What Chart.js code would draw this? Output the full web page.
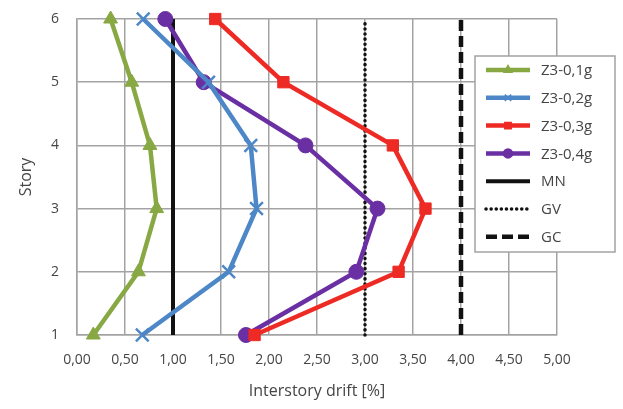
<!DOCTYPE html>
<html>
<head>
<meta charset="utf-8">
<script src="https://cdn.jsdelivr.net/npm/chart.js@4/dist/chart.umd.min.js"></script>
<style>
  html, body { margin: 0; padding: 0; background: #fff; }
  #wrap { width: 623px; height: 409px; }
</style>
</head>
<body>
<div id="wrap"><canvas id="myChart" width="623" height="409"></canvas></div>
<script>
// stories (y axis)
const stories = [1, 2, 3, 4, 5, 6];
// interstory drift [%] per story
const drift01 = [0.17, 0.64, 0.83, 0.76, 0.57, 0.35];
const drift02 = [0.68, 1.58, 1.87, 1.81, 1.37, 0.69];
const drift03 = [1.85, 3.35, 3.63, 3.29, 2.15, 1.44];
const drift04 = [1.76, 2.91, 3.13, 2.38, 1.32, 0.92];
// limit lines
const limitMN = 1.0;
const limitGV = 3.0;
const limitGC = 4.0;
const xTickLabels = ['0,00', '0,50', '1,00', '1,50', '2,00', '2,50', '3,00', '3,50', '4,00', '4,50', '5,00'];
const yTickLabels = ['1', '2', '3', '4', '5', '6'];

function pts(vals) {
    return vals.map((v, i) => ({x: v, y: stories[i]}));
}
function vline(v) {
    return [{x: v, y: stories[0]}, {x: v, y: stories[stories.length - 1]}];
}

const txt = '#454545';
const grid = '#a3a3a3';

function series(label, vals, color, style, r) {
    return {
        label: label, data: pts(vals), showLine: true,
        borderColor: color, backgroundColor: color, borderWidth: 4.5,
        pointStyle: style, pointRadius: r, pointBorderWidth: style === 'crossRot' ? 2.5 : 1,
        pointBorderColor: color, clip: false
    };
}
function limit(label, v, width, dash, cap) {
    return {
        label: label, data: vline(v), showLine: true,
        borderColor: '#111', borderWidth: width, borderDash: dash, borderCapStyle: cap,
        pointRadius: 0, clip: false
    };
}

// legend drawn inside the plot like the original
const boxLegend = {
    id: 'boxLegend',
    afterDraw(chart) {
        const ctx = chart.ctx;
        const x0 = 475, y0 = 56, w = 140, h = 196;
        ctx.save();
        ctx.fillStyle = '#fff';
        ctx.fillRect(x0, y0, w, h);
        ctx.strokeStyle = grid;
        ctx.lineWidth = 1.5;
        ctx.strokeRect(x0, y0, w, h);
        chart.data.datasets.forEach((ds, i) => {
            const y = y0 + 14 + i * 27.8;
            ctx.save();
            ctx.strokeStyle = ds.borderColor;
            ctx.lineWidth = ds.borderWidth;
            ctx.setLineDash(ds.borderDash || []);
            ctx.lineCap = ds.borderCapStyle || 'butt';
            ctx.beginPath();
            ctx.moveTo(486, y);
            ctx.lineTo(530, y);
            ctx.stroke();
            ctx.restore();
            if (ds.pointRadius) {
                ctx.fillStyle = ds.backgroundColor;
                ctx.strokeStyle = ds.borderColor;
                Chart.helpers.drawPoint(ctx, {pointStyle: ds.pointStyle, radius: 4.5, rotation: 0, borderWidth: ds.pointBorderWidth}, 508, y);
            }
            ctx.fillStyle = txt;
            ctx.font = '15px "Open Sans"';
            ctx.textBaseline = 'middle';
            ctx.textAlign = 'left';
            ctx.fillText(ds.label, 541, y + 1);
        });
        ctx.restore();
    }
};

new Chart(document.getElementById('myChart'), {
    type: 'scatter',
    data: {
        datasets: [
            series('Z3-0,1g', drift01, '#87a843', 'triangle', 8),
            series('Z3-0,2g', drift02, '#4d87c7', 'crossRot', 9),
            series('Z3-0,3g', drift03, '#ee2a24', 'rect', 8),
            series('Z3-0,4g', drift04, '#6a2fa2', 'circle', 7.5),
            limit('MN', limitMN, 4, [], 'butt'),
            limit('GV', limitGV, 3.5, [0.1, 5], 'round'),
            limit('GC', limitGC, 4.5, [11, 5], 'butt')
        ]
    },
    options: {
        responsive: false,
        animation: false,
        layout: {padding: {left: 0, right: 66, top: 19, bottom: 0}},
        plugins: {legend: {display: false}, tooltip: {enabled: false}},
        scales: {
            x: {
                type: 'linear', min: 0, max: 5,
                afterFit(s) { s.height = 74; },
                grid: {color: grid, lineWidth: 1.5, drawTicks: false},
                border: {color: grid, width: 1.5},
                ticks: {
                    stepSize: 0.5, padding: 17, color: txt,
                    font: {family: 'Open Sans', size: 14},
                    callback: (v, i) => xTickLabels[i]
                },
                title: {
                    display: true, text: 'Interstory drift [%]', color: txt,
                    font: {family: 'Open Sans', size: 16}, padding: {bottom: 8}
                }
            },
            y: {
                type: 'linear', min: 1, max: 6,
                afterFit(s) { s.width = 77; s.paddingTop = 0; s.paddingBottom = 0; },
                grid: {color: grid, lineWidth: 1.5, drawTicks: false},
                border: {color: grid, width: 1.5},
                ticks: {
                    stepSize: 1, padding: 18, color: txt,
                    font: {family: 'Open Sans', size: 14},
                    callback: (v, i) => yTickLabels[i]
                },
                title: {
                    display: true, text: 'Story', color: txt,
                    font: {family: 'Open Sans', size: 16}, padding: {top: 17}
                }
            }
        }
    },
    plugins: [boxLegend]
});
</script>
</body>
</html>
